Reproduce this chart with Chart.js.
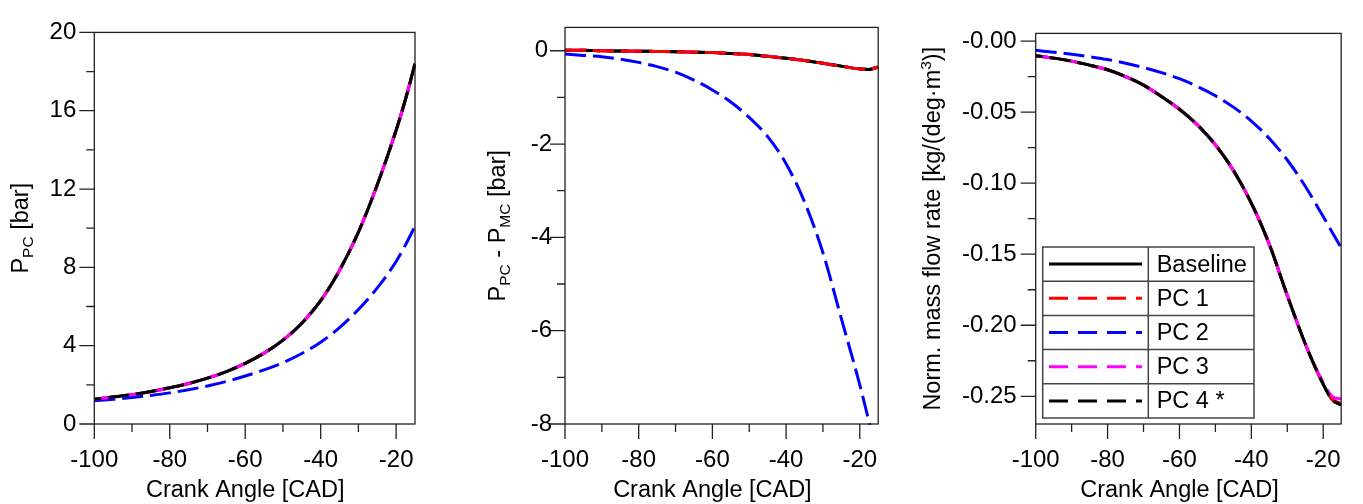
<!DOCTYPE html>
<html><head><meta charset="utf-8">
<script src="https://cdn.jsdelivr.net/npm/chart.js@4/dist/chart.umd.min.js"></script>
<style>
html,body{margin:0;padding:0;background:#fff;width:1363px;height:504px;overflow:hidden}
.p{position:absolute;top:0}
canvas{display:block}
</style></head><body>
<div class="p" style="left:0px"><canvas id="c1" width="440" height="504"></canvas></div>
<div class="p" style="left:460px"><canvas id="c2" width="440" height="504"></canvas></div>
<div class="p" style="left:900px"><canvas id="c3" width="463" height="504"></canvas></div>
<script>
// ---------- data ----------
const angles = [-100,-95,-90,-85,-80,-75,-70,-65,-60,-55,-50,-45,-40,-35,-30,-25,-20,-17.5,-15];
const seriesNames = ['Baseline','PC 1','PC 2','PC 3','PC 4 *'];

// Panel 1: P_PC [bar]
const p1Baseline = [1.27,1.38,1.50,1.66,1.85,2.07,2.34,2.68,3.10,3.62,4.28,5.15,6.30,7.85,9.80,12.22,15.0,16.6,18.4];
const p1PC1      = [1.27,1.38,1.50,1.66,1.85,2.07,2.34,2.68,3.10,3.62,4.28,5.15,6.30,7.85,9.80,12.22,15.0,16.6,18.4];
const p1PC2      = [1.19,1.26,1.35,1.46,1.59,1.75,1.94,2.17,2.45,2.76,3.13,3.60,4.18,4.92,5.85,6.95,8.30,9.15,10.1];
const p1PC3      = [1.27,1.38,1.50,1.66,1.85,2.07,2.34,2.68,3.10,3.62,4.28,5.15,6.30,7.85,9.80,12.22,15.0,16.6,18.3];
const p1PC4      = [1.27,1.38,1.50,1.66,1.85,2.07,2.34,2.68,3.10,3.62,4.28,5.15,6.30,7.85,9.80,12.22,15.0,16.6,18.4];

// Panel 2: P_PC - P_MC [bar]
const p2Baseline = [0.01,0.01,0.0,-0.005,-0.01,-0.015,-0.02,-0.03,-0.04,-0.06,-0.08,-0.12,-0.16,-0.21,-0.27,-0.33,-0.39,-0.40,-0.35];
const p2PC1      = [0.01,0.01,0.0,-0.005,-0.01,-0.015,-0.02,-0.03,-0.04,-0.06,-0.08,-0.12,-0.16,-0.21,-0.27,-0.33,-0.39,-0.40,-0.35];
const p2PC2      = [-0.07,-0.10,-0.13,-0.18,-0.25,-0.34,-0.46,-0.63,-0.84,-1.10,-1.43,-1.84,-2.42,-3.24,-4.33,-5.74,-7.16,-7.95,-8.75];
const p2PC3      = [0.01,0.01,0.0,-0.005,-0.01,-0.015,-0.02,-0.03,-0.04,-0.06,-0.08,-0.12,-0.16,-0.21,-0.27,-0.33,-0.39,-0.40,-0.35];
const p2PC4      = [0.01,0.01,0.0,-0.005,-0.01,-0.015,-0.02,-0.03,-0.04,-0.06,-0.08,-0.12,-0.16,-0.21,-0.27,-0.33,-0.39,-0.40,-0.35];

// Panel 3: normalised mass flow rate [kg/(deg·m³)]
const p3Baseline = [-0.0103,-0.0120,-0.0141,-0.0170,-0.0202,-0.0250,-0.0310,-0.0390,-0.0480,-0.0590,-0.0730,-0.0910,-0.1140,-0.1430,-0.1790,-0.2130,-0.2415,-0.2525,-0.2560];
const p3PC1      = [-0.0103,-0.0120,-0.0141,-0.0170,-0.0202,-0.0250,-0.0310,-0.0390,-0.0480,-0.0590,-0.0730,-0.0910,-0.1140,-0.1430,-0.1790,-0.2130,-0.2415,-0.2520,-0.2550];
const p3PC2      = [-0.0065,-0.0078,-0.0092,-0.0110,-0.0130,-0.0156,-0.0186,-0.0222,-0.0265,-0.0320,-0.0385,-0.0465,-0.0563,-0.0685,-0.0837,-0.1022,-0.1235,-0.1345,-0.1455];
const p3PC3      = [-0.0103,-0.0120,-0.0141,-0.0170,-0.0202,-0.0250,-0.0310,-0.0390,-0.0480,-0.0590,-0.0730,-0.0910,-0.1140,-0.1430,-0.1790,-0.2130,-0.2405,-0.2500,-0.2520];
const p3PC4      = [-0.0103,-0.0120,-0.0141,-0.0170,-0.0202,-0.0250,-0.0310,-0.0390,-0.0480,-0.0590,-0.0730,-0.0910,-0.1140,-0.1430,-0.1790,-0.2130,-0.2415,-0.2525,-0.2560];

// ticks
const xMajorTicks = [-100,-80,-60,-40,-20];
const xMinorTicks = [-90,-70,-50,-30];
const y1Ticks = [0,4,8,12,16,20];
const y1Minor = [2,6,10,14,18];
const y2Ticks = [0,-2,-4,-6,-8];
const y2Minor = [-1,-3,-5,-7];
const y3Ticks = [0,-0.05,-0.10,-0.15,-0.20,-0.25];
const y3TickLabels = ['-0.00','-0.05','-0.10','-0.15','-0.20','-0.25'];
const y3Minor = [-0.025,-0.075,-0.125,-0.175,-0.225];

// ---------- styling ----------
const FONT = '"Liberation Sans", Arial, Helvetica, sans-serif';
const TICK_SIZE = 24, TITLE_SIZE = 23.5, SUB_SIZE = 15.5;
const colors = ['#000000','#ff0000','#0000ff','#ff00ff','#000000'];
const dashes = [[],[21,7],[21,7],[21,7],[21,7]];
const dashOffsets = [0,0,0,0,14];

function pts(arr){ return angles.map((a,i)=>({x:a,y:arr[i]})); }

function drawRich(ctx, parts, x, y, rot){
  ctx.save();
  ctx.translate(x,y); ctx.rotate(rot);
  let total=0;
  parts.forEach(p=>{ ctx.font = p.size+'px '+FONT; p.w = ctx.measureText(p.t).width; total+=p.w; });
  let cx=-total/2;
  ctx.fillStyle='#000'; ctx.textAlign='left'; ctx.textBaseline='alphabetic';
  parts.forEach(p=>{ ctx.font = p.size+'px '+FONT; ctx.fillText(p.t,cx,p.dy||0); cx+=p.w; });
  ctx.restore();
}

function makeChart(id, cfg){
  const datasets = cfg.series.map((arr,i)=>({
    label: seriesNames[i],
    data: pts(arr),
    borderColor: colors[i],
    borderWidth: 3,
    borderDash: dashes[i],
    borderDashOffset: dashOffsets[i],
    pointRadius: 0,
    cubicInterpolationMode: 'monotone',
    fill: false,
    order: cfg.order[i],
    clip: 1
  }));
  const decor = {
    id: 'decor'+id,
    afterDatasetsDraw(chart){
      const ctx = chart.ctx, a = chart.chartArea, xs = chart.scales.x, ys = chart.scales.y;
      ctx.save();
      ctx.strokeStyle = '#222'; ctx.lineWidth = 1.3;
      ctx.strokeRect(a.left, a.top, a.right-a.left, a.bottom-a.top);
      ctx.beginPath();
      xMajorTicks.forEach(v=>{ const p=xs.getPixelForValue(v); ctx.moveTo(p,a.bottom); ctx.lineTo(p,a.bottom+15); });
      xMinorTicks.forEach(v=>{ const p=xs.getPixelForValue(v); ctx.moveTo(p,a.bottom); ctx.lineTo(p,a.bottom+8); });
      cfg.yTicks.forEach(v=>{ const p=ys.getPixelForValue(v); ctx.moveTo(a.left-15,p); ctx.lineTo(a.left,p); });
      cfg.yMinor.forEach(v=>{ const p=ys.getPixelForValue(v); ctx.moveTo(a.left-8,p); ctx.lineTo(a.left,p); });
      ctx.stroke();
      // x title, centred on the labelled tick range
      const xc = xs.getPixelForValue((xMajorTicks[0]+xMajorTicks[xMajorTicks.length-1])/2);
      drawRich(ctx, [{t:'Crank Angle [CAD]', size:TITLE_SIZE}], xc, 497, 0);
      // y title
      const yc = (a.top+a.bottom)/2;
      drawRich(ctx, cfg.yTitle, cfg.yTitleX, yc, -Math.PI/2);
      if (cfg.legend){
        const L = a.left+7, W = 211.3, H = 171, T = a.bottom-6-H, rh = H/5, div = L+105.6;
        ctx.fillStyle='#fff'; ctx.fillRect(L,T,W,H);
        ctx.strokeStyle='#444'; ctx.lineWidth=1.5; ctx.setLineDash([]);
        ctx.strokeRect(L,T,W,H);
        ctx.beginPath();
        for(let r=1;r<5;r++){ ctx.moveTo(L,T+r*rh); ctx.lineTo(L+W,T+r*rh); }
        ctx.moveTo(div,T); ctx.lineTo(div,T+H);
        ctx.stroke();
        chart.data.datasets.forEach((ds,i)=>{
          const cy = T + rh*i + rh/2;
          ctx.strokeStyle = ds.borderColor; ctx.lineWidth = 3;
          ctx.setLineDash(i===0?[]:[19,10]); ctx.lineDashOffset = 0;
          ctx.beginPath(); ctx.moveTo(L+6.3,cy); ctx.lineTo(L+99.3,cy); ctx.stroke();
          ctx.setLineDash([]);
          ctx.fillStyle='#000'; ctx.font=TITLE_SIZE+'px '+FONT; ctx.textAlign='left'; ctx.textBaseline='middle';
          ctx.fillText(ds.label, L+114, cy+1);
        });
      }
      ctx.restore();
    }
  };
  return new Chart(document.getElementById(id), {
    type: 'line',
    data: { datasets },
    options: {
      responsive: false, animation: false, devicePixelRatio: 1,
      layout: { padding: { top: 16, right: cfg.padRight, left: 0, bottom: 0 } },
      plugins: { legend: {display:false}, tooltip: {enabled:false} },
      scales: {
        x: {
          type: 'linear', min: -100, max: -15,
          grid: {display:false, drawTicks:false}, border: {display:false},
          afterBuildTicks: s => { s.ticks = xMajorTicks.map(v=>({value:v})); },
          afterFit: s => { s.height = 80; },
          ticks: { padding: 22, color:'#000', font:{family:FONT, size:TICK_SIZE}, maxRotation:0, autoSkip:false,
                   callback: v => String(v) }
        },
        y: {
          type: 'linear', min: cfg.yMin, max: cfg.yMax,
          grid: {display:false, drawTicks:false}, border: {display:false},
          afterBuildTicks: s => { s.ticks = cfg.yTicks.map(v=>({value:v})); },
          afterFit: s => { s.width = cfg.yWidth; },
          ticks: { padding: cfg.yPad, crossAlign: cfg.crossAlign || 'near', color:'#000', font:{family:FONT, size:TICK_SIZE}, autoSkip:false,
                   callback: cfg.yLabel }
        }
      }
    },
    plugins: [decor]
  });
}

makeChart('c1', {
  series: [p1Baseline,p1PC1,p1PC2,p1PC3,p1PC4],
  order: [5,4,3,2,1],
  yMin: 0, yMax: 20, yTicks: y1Ticks, yMinor: y1Minor,
  yLabel: v => String(v), yWidth: 94.3, yPad: 18, padRight: 25,
  yTitle: [{t:'P',size:TITLE_SIZE},{t:'PC',size:SUB_SIZE,dy:5},{t:' [bar]',size:TITLE_SIZE}], yTitleX: 28
});
makeChart('c2', {
  series: [p2Baseline,p2PC1,p2PC2,p2PC3,p2PC4],
  order: [5,0,3,2,1],
  yMin: -8, yMax: 0.5, yTicks: y2Ticks, yMinor: y2Minor,
  yLabel: v => String(v), yWidth: 105, yPad: 13, crossAlign: 'center', padRight: 15,
  yTitle: [{t:'P',size:TITLE_SIZE},{t:'PC',size:SUB_SIZE,dy:5},{t:' - P',size:TITLE_SIZE},{t:'MC',size:SUB_SIZE,dy:5},{t:' [bar]',size:TITLE_SIZE}], yTitleX: 45
});
makeChart('c3', {
  series: [p3Baseline,p3PC1,p3PC2,p3PC3,p3PC4],
  order: [5,4,3,2,1],
  yMin: -0.2695, yMax: 0.0054, yTicks: y3Ticks, yMinor: y3Minor,
  yLabel: (v,i) => y3TickLabels[i], yWidth: 135.7, yPad: 19, padRight: 7.7, legend: true,
  yTitle: [{t:'Norm. mass flow rate [kg/(deg\u00B7m',size:TITLE_SIZE},{t:'3',size:SUB_SIZE,dy:-9},{t:')]',size:TITLE_SIZE}], yTitleX: 40
});
</script>
</body></html>
